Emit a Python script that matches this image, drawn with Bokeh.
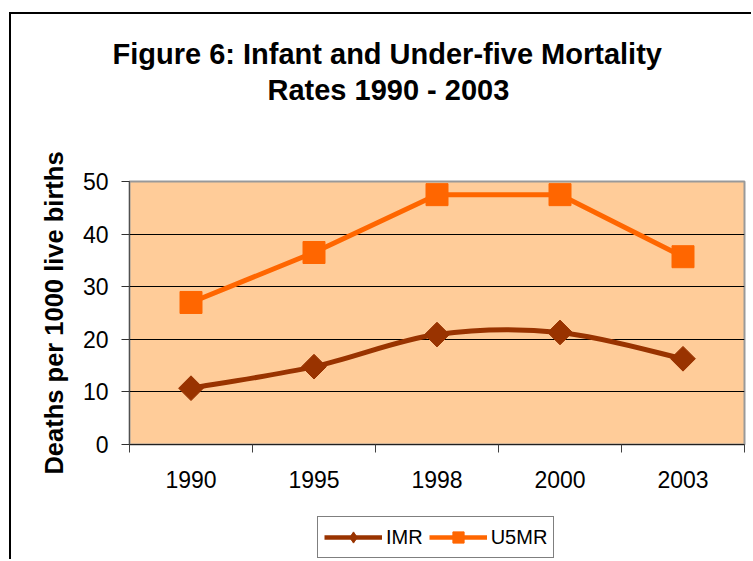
import math
from bokeh.plotting import figure
from bokeh.layouts import column
from bokeh.models import (ColumnDataSource, FixedTicker, Range1d, Legend, LegendItem, Title)
from bokeh.embed import file_html
from bokeh.resources import INLINE

# ---- data ----
years = ["1990", "1995", "1998", "2000", "2003"]
imr = [10.7, 14.8, 20.9, 21.3, 16.3]
u5mr = [27.0, 36.5, 47.5, 47.5, 35.7]
y_ticks = [0, 10, 20, 30, 40, 50]
title_line1 = "Figure 6: Infant and Under-five Mortality"
title_line2 = "Rates 1990 - 2003"
y_label = "Deaths per 1000 live births"
series_names = ["IMR", "U5MR"]

FONT = "Liberation Sans"
IMR_COLOR = "#993300"
U5_COLOR = "#FF6600"

xpos = [i + 0.5 for i in range(len(years))]

p = figure(width=740, height=491, output_backend="svg", toolbar_location=None,
           x_range=Range1d(0, len(years)), y_range=Range1d(0, 50),
           min_border_left=118, min_border_right=7, min_border_top=167, min_border_bottom=61,
           background_fill_color="#FFCC99", border_fill_color="white")
p.title.text = ""
p.title.standoff = 0

p.outline_line_color = "#999999"
p.outline_line_width = 2

# axes
xa = p.xaxis[0]
xa.ticker = FixedTicker(ticks=xpos, minor_ticks=list(range(len(years) + 1)))
xa.major_label_overrides = {x: y for x, y in zip(xpos, years)}
xa.major_tick_out = 0
xa.major_tick_in = 0
xa.minor_tick_out = 8
xa.minor_tick_in = 0
xa.minor_tick_line_color = "#404040"
xa.axis_line_color = "#202020"
xa.major_label_text_font = FONT
xa.major_label_text_font_size = "23px"
xa.major_label_text_color = "black"
xa.major_label_standoff = 18

ya = p.yaxis[0]
ya.ticker = FixedTicker(ticks=y_ticks)
ya.minor_tick_line_color = None
ya.major_tick_out = 8
ya.major_tick_in = 0
ya.major_tick_line_color = "#303030"
ya.axis_line_color = "#505050"
ya.major_label_text_font = FONT
ya.major_label_text_font_size = "23px"
ya.major_label_text_color = "black"
ya.major_label_standoff = 13
ya.axis_label = y_label
ya.axis_label_text_font = FONT
ya.axis_label_text_font_size = "25.5px"
ya.axis_label_text_font_style = "bold"
ya.axis_label_text_color = "black"
ya.axis_label_standoff = 12

p.xgrid.grid_line_color = None
p.ygrid.ticker = FixedTicker(ticks=y_ticks)
p.ygrid.grid_line_color = "black"
p.ygrid.grid_line_width = 1

# smoothed IMR curve (cubic Bezier segments, like Excel's smoothed line)
n = len(xpos)
def P(i):
    i = max(0, min(n - 1, i))
    return xpos[i], imr[i]
bz = dict(x0=[], y0=[], x1=[], y1=[], cx0=[], cy0=[], cx1=[], cy1=[])
for i in range(n - 1):
    xa0, ya0 = P(i - 1)
    xb, yb = P(i)
    xc, yc = P(i + 1)
    xd, yd = P(i + 2)
    bz["x0"].append(xb); bz["y0"].append(yb)
    bz["x1"].append(xc); bz["y1"].append(yc)
    bz["cx0"].append(xb + (xc - xa0) / 6); bz["cy0"].append(yb + (yc - ya0) / 6)
    bz["cx1"].append(xc - (xd - xb) / 6); bz["cy1"].append(yc - (yd - yb) / 6)
bsrc = ColumnDataSource(bz)
src = ColumnDataSource(dict(x=xpos, imr=imr, u5=u5mr))

p.bezier(x0="x0", y0="y0", x1="x1", y1="y1", cx0="cx0", cy0="cy0",
         cx1="cx1", cy1="cy1", source=bsrc, line_color=IMR_COLOR, line_width=5)
p.scatter("x", "imr", source=src, marker="square", angle=math.pi / 4, size=17.5,
          fill_color=IMR_COLOR, line_color=IMR_COLOR)
p.line("x", "u5", source=src, line_color=U5_COLOR, line_width=5)
p.scatter("x", "u5", source=src, marker="square", size=22,
          fill_color=U5_COLOR, line_color=U5_COLOR)

# two-line title, pushed up by an empty spacer title (first added sits closest to the plot)
p.add_layout(Title(text=" ", text_font_size="1px", standoff=72), "above")
p.add_layout(Title(text=title_line2, align="left", offset=138, standoff=2,
                   text_font=FONT, text_font_size="29px", text_font_style="bold",
                   text_color="black"), "above")
p.add_layout(Title(text=title_line1, align="left", offset=-17, standoff=2,
                   text_font=FONT, text_font_size="29px", text_font_style="bold",
                   text_color="black"), "above")

# legend strip below the chart (its glyphs sit outside the strip's visible range)
lf = figure(width=740, height=54, output_backend="svg", toolbar_location=None,
            x_range=Range1d(100, 101), y_range=Range1d(100, 101),
            min_border=0, border_fill_color="white", background_fill_color="white")
lf.axis.visible = False
lf.grid.visible = False
lf.outline_line_color = None
lf.title.text = ""
l_imr_line = lf.line("x", "imr", source=src, line_color=IMR_COLOR, line_width=4.5)
l_imr_pts = lf.scatter("x", "imr", source=src, marker="diamond", size=17,
                       fill_color=IMR_COLOR, line_color=IMR_COLOR)
l_u5_line = lf.line("x", "u5", source=src, line_color=U5_COLOR, line_width=4.5)
l_u5_pts = lf.scatter("x", "u5", source=src, marker="square", size=22,
                      fill_color=U5_COLOR, line_color=U5_COLOR)

legend = Legend(items=[LegendItem(label=series_names[0], renderers=[l_imr_line, l_imr_pts]),
                       LegendItem(label=series_names[1], renderers=[l_u5_line, l_u5_pts])],
                location=(188, 1), orientation="horizontal",
                glyph_width=58, glyph_height=28, label_standoff=4, spacing=6,
                padding=6, margin=0,
                label_text_font=FONT, label_text_font_size="20px",
                label_text_color="black",
                border_line_color="black", border_line_width=1,
                background_fill_color="white", background_fill_alpha=1)
lf.add_layout(legend, "center")

layout = column(p, lf, spacing=0)
layout.margin = (12, 0, 0, 9)
layout.styles = {"border-left": "2px solid black", "border-top": "2px solid black"}

open("out.html", "w").write(file_html(layout, INLINE))
